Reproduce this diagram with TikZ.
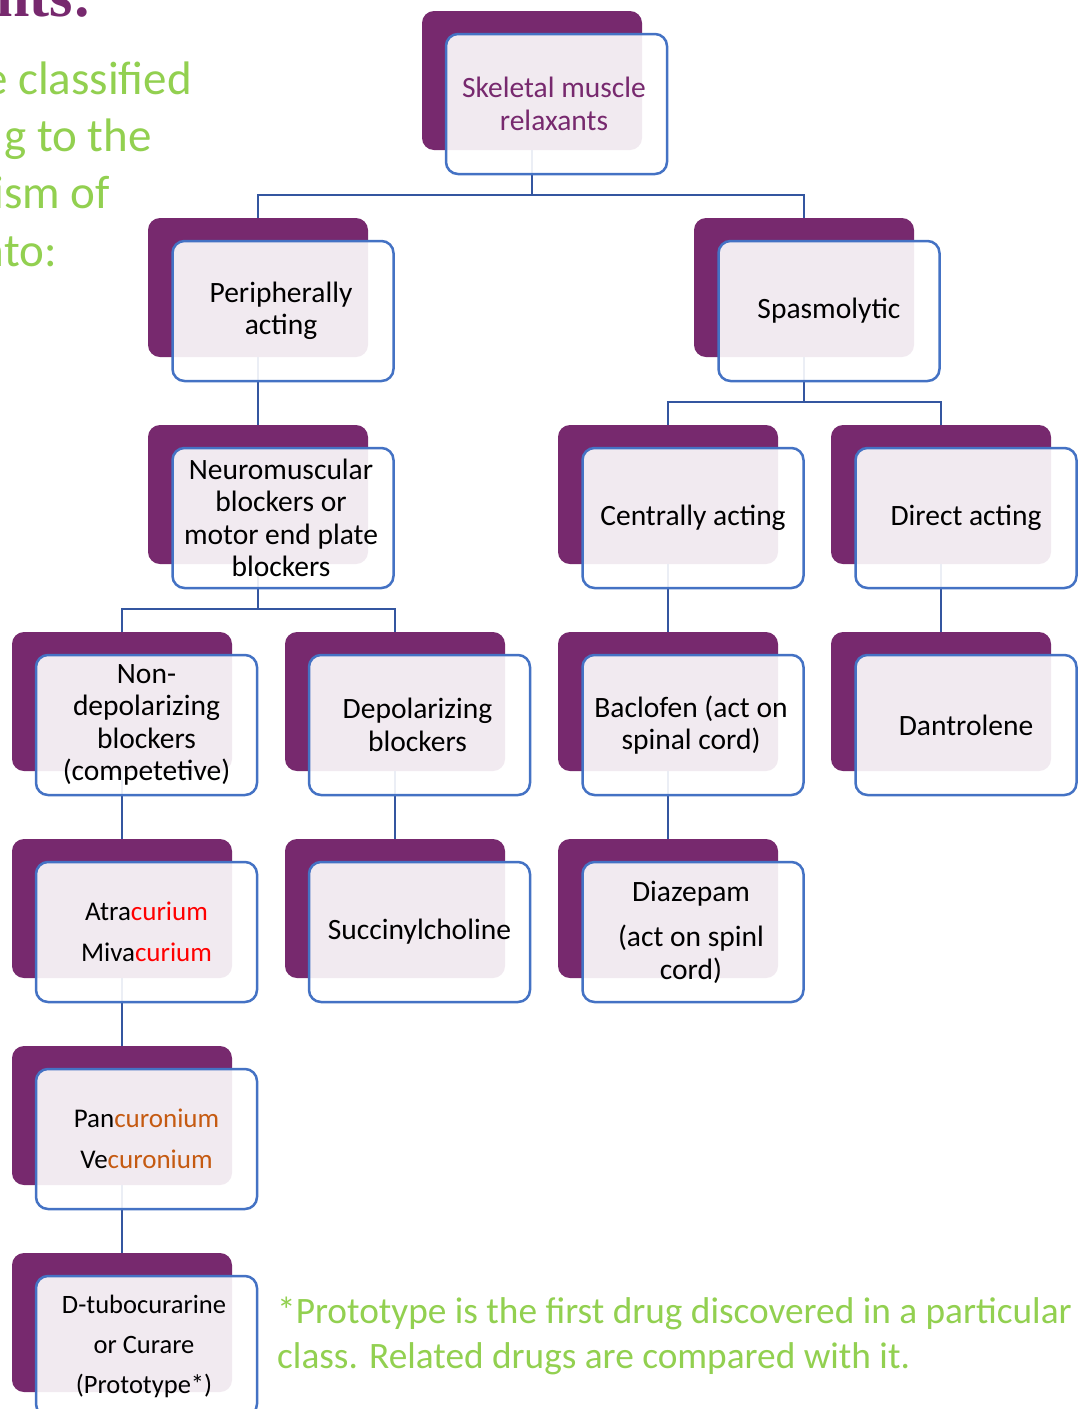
\documentclass[tikz,border=0pt]{standalone}
\usepackage{fontspec}
\setmainfont{Carlito}
\newfontfamily\titlefont{Liberation Serif}
\definecolor{purp}{RGB}{119,41,110}
\definecolor{bblue}{RGB}{68,114,196}
\definecolor{cblue}{RGB}{52,86,160}
\definecolor{lgreen}{RGB}{146,208,80}
\definecolor{orng}{RGB}{197,90,17}
\definecolor{rred}{RGB}{255,0,0}
\tikzset{
  back/.style={fill=purp, draw=none, rounded corners=12pt, minimum width=220pt, minimum height=139pt, inner sep=0pt, outer sep=0pt},
  front/.style={draw=bblue, line width=2.5pt, fill=white, fill opacity=0.9, text opacity=1, rounded corners=12pt, minimum width=221pt, minimum height=140pt, inner sep=0pt, align=center, text=black, font=\fontsize{29.5}{32.5}\selectfont},
  conn/.style={draw=cblue, line width=2.5pt},
  greentxt/.style={text=lgreen, inner sep=0pt}
}
\begin{document}
\begin{tikzpicture}[x=1pt,y=-1pt]
\useasboundingbox (0,0) rectangle (1081,1409);
\clip (0,0) rectangle (1081,1409);
\fill[white] (0,0) rectangle (1081,1409);

% left-hand slide text fragments
\node[anchor=base east, inner sep=0pt, text=purp, font=\titlefont\bfseries\fontsize{60}{60}\selectfont] (ttl) at (93,16) {nts:};
\node[greentxt, anchor=base east, font=\fontsize{47}{57}\selectfont] (g1) at (192,94) {e classified};
\node[greentxt, anchor=base east, font=\fontsize{47}{57}\selectfont] (g2) at (152,151) {g to the};
\node[greentxt, anchor=base east, font=\fontsize{47}{57}\selectfont] (g3) at (110,208) {ism of};
\node[greentxt, anchor=base east, font=\fontsize{47}{57}\selectfont] (g4) at (57,266) {nto:};

% back boxes
\node[back] (topb) at (532,80.5) {};
\node[back] (perb) at (258,287.5) {};
\node[back] (spab) at (804,287.5) {};
\node[back] (nmbb) at (258,494.5) {};
\node[back] (cenb) at (668,494.5) {};
\node[back] (dirb) at (941,494.5) {};
\node[back] (nonb) at (122,701.5) {};
\node[back] (depb) at (395,701.5) {};
\node[back] (bacb) at (668,701.5) {};
\node[back] (danb) at (941,701.5) {};
\node[back] (atrb) at (122,908.5) {};
\node[back] (sucb) at (395,908.5) {};
\node[back] (diab) at (668,908.5) {};
\node[back] (panb) at (122,1115.5) {};
\node[back] (dtub) at (122,1322.5) {};

% connectors
\draw[conn] (topb.south) -- ++(0,45) -| (perb.north);
\draw[conn] (topb.south) -- ++(0,45) -| (spab.north);
\draw[conn] (perb.south) -- (nmbb.north);
\draw[conn] (spab.south) -- ++(0,45) -| (cenb.north);
\draw[conn] (spab.south) -- ++(0,45) -| (dirb.north);
\draw[conn] (nmbb.south) -- ++(0,45) -| (nonb.north);
\draw[conn] (nmbb.south) -- ++(0,45) -| (depb.north);
\draw[conn] (cenb.south) -- (bacb.north);
\draw[conn] (dirb.south) -- (danb.north);
\draw[conn] (nonb.south) -- (atrb.north);
\draw[conn] (depb.south) -- (sucb.north);
\draw[conn] (bacb.south) -- (diab.north);
\draw[conn] (atrb.south) -- (panb.north);
\draw[conn] (panb.south) -- (dtub.north);

% front boxes
\node[front, text=purp] (topf) at (556.5,104) {\hspace*{-5pt}Skeletal muscle\\\hspace*{-5pt}relaxants};
\node[front] (perf) at (283,311) {\hspace*{-4pt}Peripherally\\\hspace*{-4pt}acting};
\node[front] (spaf) at (829,311) {Spasmolytic};
\node[front] (nmbf) at (283,518) {\hspace*{-4pt}Neuromuscular\\\hspace*{-4pt}blockers or\\\hspace*{-4pt}motor end plate\\\hspace*{-4pt}blockers};
\node[front] (cenf) at (693,518) {Centrally acting};
\node[front] (dirf) at (966,518) {Direct acting};
\node[front] (nonf) at (146.5,725) {Non-\\depolarizing\\blockers\\(competetive)};
\node[front] (depf) at (419.5,725) {\hspace*{-4pt}Depolarizing\\\hspace*{-4pt}blockers};
\node[front] (bacf) at (693,725) {\hspace*{-4pt}Baclofen (act on\\\hspace*{-4pt}spinal cord)};
\node[front] (danf) at (966,725) {Dantrolene};
\node[front, font=\fontsize{27}{41}\selectfont] (atrf) at (146.5,932) {Atra\textcolor{rred}{curium}\\Miva\textcolor{rred}{curium}};
\node[front] (suc) at (419.5,932) {Succinylcholine};
\node[front] (diaf) at (693,932) {\hspace*{-4pt}Diazepam\\[13pt]\hspace*{-4pt}(act on spinl\\\hspace*{-4pt}cord)};
\node[front, font=\fontsize{27}{41}\selectfont] (panf) at (146.5,1139) {Pan\textcolor{orng}{curonium}\\Ve\textcolor{orng}{curonium}};
\node[front, font=\fontsize{26.5}{40}\selectfont] (dtuf) at (146.5,1346) {\hspace*{-5pt}D-tubocurarine\\\hspace*{-5pt}or Curare\\\hspace*{-5pt}(Prototype*)};

% footnote
\node[greentxt, anchor=base west, font=\fontsize{37.3}{45}\selectfont] (fn1) at (277,1323) {*Prototype is the first drug discovered in a particular};
\node[greentxt, anchor=base west, font=\fontsize{37.3}{45}\selectfont] (fn2) at (277,1368) {class. Related drugs are compared with it.};
\end{tikzpicture}
\end{document}
